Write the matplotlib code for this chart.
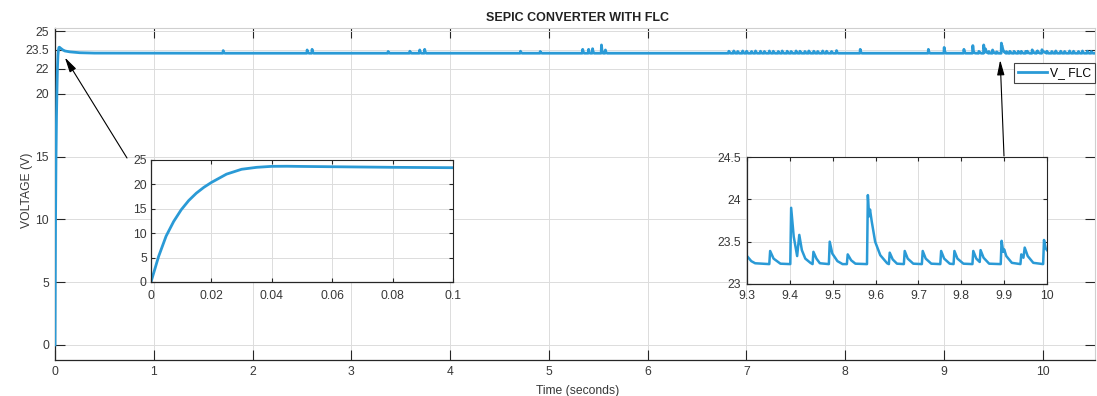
import matplotlib
matplotlib.use("Agg")
import matplotlib.pyplot as plt
import numpy as np

plt.rcParams['font.family'] = ['Liberation Sans', 'DejaVu Sans']

# ---------------- data ----------------
title = "SEPIC CONVERTER WITH FLC"
series_name = "V_ FLC"
x_label = "Time (seconds)"
y_label = "VOLTAGE (V)"

main_xticks = [0, 1, 2, 3, 4, 5, 6, 7, 8, 9, 10]
main_yticks = [0, 5, 10, 15, 20, 22, 23.5, 25]
main_ytick_labels = ["0", "5", "10", "15", "20", "22", "23.5", "25"]

inset1_xticks = [0, 0.02, 0.04, 0.06, 0.08, 0.1]
inset1_xtick_labels = ["0", "0.02", "0.04", "0.06", "0.08", "0.1"]
inset1_yticks = [0, 5, 10, 15, 20, 25]
inset2_xticks = [9.3, 9.4, 9.5, 9.6, 9.7, 9.8, 9.9, 10]
inset2_xtick_labels = ["9.3", "9.4", "9.5", "9.6", "9.7", "9.8", "9.9", "10"]
inset2_yticks = [23, 23.5, 24, 24.5]
inset2_ytick_labels = ["23", "23.5", "24", "24.5"]

base_v = 23.24

# start-up transient (0 .. 0.1 s)
startup_t = [0, 0.0025, 0.005, 0.0075, 0.01, 0.0125, 0.015, 0.0175, 0.02, 0.025,
             0.03, 0.035, 0.04, 0.045, 0.05, 0.06, 0.07, 0.08, 0.09, 0.1]
startup_v = [0, 5.2, 9.4, 12.4, 14.8, 16.7, 18.2, 19.4, 20.4, 22.1,
             23.1, 23.5, 23.7, 23.72, 23.68, 23.62, 23.56, 23.5, 23.46, 23.42]

settle_t = [0.15, 0.25, 0.4]
settle_v = [23.35, 23.28, 23.25]

# spikes seen on the main trace outside the 9.3-10 s window
spike_t = [1.70, 2.55, 2.60, 3.37, 3.59, 3.69, 3.74, 4.71, 4.91,
           5.34, 5.40, 5.44, 5.53, 5.57,
           6.82, 6.87, 6.91, 6.96, 7.00, 7.05, 7.09, 7.14, 7.18, 7.23, 7.27, 7.32,
           7.36, 7.41, 7.45, 7.50, 7.54, 7.59, 7.63, 7.68, 7.72, 7.77, 7.81, 7.86,
           7.91, 8.15, 8.84, 9.00, 9.20, 9.29,
           10.04, 10.09, 10.13, 10.18, 10.22, 10.27, 10.31, 10.36, 10.40, 10.45, 10.49]
spike_v = [23.45, 23.5, 23.55, 23.38, 23.4, 23.5, 23.55, 23.4, 23.38,
           23.55, 23.55, 23.6, 23.9, 23.5,
           23.4, 23.42, 23.38, 23.42, 23.4, 23.38, 23.42, 23.4, 23.38, 23.42, 23.4, 23.38,
           23.42, 23.4, 23.38, 23.42, 23.4, 23.38, 23.42, 23.4, 23.38, 23.42, 23.4, 23.38,
           23.45, 23.55, 23.55, 23.7, 23.55, 23.85,
           23.4, 23.38, 23.42, 23.4, 23.38, 23.42, 23.4, 23.38, 23.42, 23.4, 23.38]

# detailed trace in the 9.3 - 10 s window (zoomed inset)
win_t = [9.300, 9.310, 9.319, 9.352, 9.354, 9.362, 9.378,
         9.401, 9.403, 9.409, 9.417, 9.422, 9.428, 9.436, 9.448,
         9.453, 9.455, 9.462, 9.470,
         9.491, 9.493, 9.499, 9.511, 9.523,
         9.533, 9.535, 9.543, 9.553,
         9.580, 9.582, 9.585, 9.587, 9.591, 9.599, 9.611, 9.627,
         9.631, 9.633, 9.640, 9.650,
         9.666, 9.668, 9.675, 9.688,
         9.708, 9.710, 9.717, 9.730,
         9.751, 9.753, 9.760, 9.773,
         9.782, 9.784, 9.791, 9.805,
         9.826, 9.828, 9.835, 9.843, 9.845, 9.852, 9.865,
         9.892, 9.894, 9.898, 9.900, 9.905, 9.918,
         9.938, 9.940, 9.945, 9.948, 9.955, 9.968,
         9.991, 9.993, 9.997, 10.000]
win_v = [23.33, 23.27, 23.245, 23.235, 23.39, 23.30, 23.24,
         23.235, 23.90, 23.56, 23.33, 23.58, 23.40, 23.30, 23.25,
         23.235, 23.38, 23.30, 23.245,
         23.235, 23.50, 23.36, 23.27, 23.235,
         23.235, 23.35, 23.28, 23.24,
         23.235, 24.05, 23.80, 23.88, 23.74, 23.50, 23.34, 23.245,
         23.235, 23.37, 23.29, 23.24,
         23.235, 23.39, 23.30, 23.24,
         23.235, 23.39, 23.30, 23.24,
         23.235, 23.39, 23.30, 23.24,
         23.235, 23.39, 23.30, 23.24,
         23.235, 23.39, 23.30, 23.26, 23.40, 23.31, 23.24,
         23.235, 23.51, 23.38, 23.41, 23.33, 23.25,
         23.235, 23.35, 23.31, 23.43, 23.33, 23.25,
         23.235, 23.52, 23.42, 23.40]

t_end = 10.53

assert len(startup_t) == len(startup_v)
assert len(spike_t) == len(spike_v)
assert len(win_t) == len(win_v)

# ---------------- build the full trace ----------------
pts = list(zip(startup_t, startup_v)) + list(zip(settle_t, settle_v))
for t, v in zip(spike_t, spike_v):
    for tt, vv in [(t, base_v), (t + 0.003, v), (t + 0.008, base_v + 0.35 * (v - base_v)), (t + 0.02, base_v)]:
        if tt < win_t[0] or tt > win_t[-1]:
            pts.append((tt, vv))
pts += list(zip(win_t, win_v))
pts.append((t_end, base_v))
pts.sort(key=lambda p: p[0])
main_t = np.array([p[0] for p in pts])
main_v = np.array([p[1] for p in pts])

# ---------------- styling ----------------
W, H = 1097, 396
line_col = '#2a9ad6'
dark = '#262626'
tick_col = '#383838'
grid_col = '#dcdcdc'
fs = 8.7

fig = plt.figure(figsize=(W / 100, H / 100), dpi=100)
fig.patch.set_facecolor('white')


def style_axes(a, ticklen, xpad, ypad, light_box=False):
    a.grid(True, color=grid_col, linewidth=0.7)
    a.set_axisbelow(True)
    a.tick_params(direction='in', length=ticklen, width=0.8, color=dark,
                  labelsize=fs, labelcolor=tick_col, top=True, right=True)
    a.tick_params(axis='x', pad=xpad)
    a.tick_params(axis='y', pad=ypad)
    for s in ['left', 'bottom']:
        a.spines[s].set_color(dark)
        a.spines[s].set_linewidth(0.9)
    for s in ['top', 'right']:
        a.spines[s].set_color('#cfcfcf' if light_box else dark)
        a.spines[s].set_linewidth(0.8)


# main axes
ax = fig.add_axes([55 / W, 1 - 360 / H, (1095 - 55) / W, (360 - 28) / H])
ax.plot(main_t, main_v, color=line_col, linewidth=2.0, label=series_name, zorder=3)
ax.set_xlim(0, t_end)
ax.set_ylim(-1.2, 25.25)
ax.set_xticks(main_xticks)
ax.set_yticks(main_yticks)
ax.set_yticklabels(main_ytick_labels)
style_axes(ax, 7.5, 4.0, 4.3, light_box=True)

leg = ax.legend(loc='upper right', bbox_to_anchor=(1095 / W, 1 - 63 / H),
                bbox_transform=fig.transFigure, fontsize=fs, frameon=True,
                fancybox=False, handlelength=2.4, handletextpad=0.2,
                borderpad=0.35, borderaxespad=0)
leg.get_frame().set_edgecolor('#444444')
leg.get_frame().set_linewidth(0.8)
leg.get_frame().set_alpha(1)

fig.text(578 / W, 1 - 18 / H, title, ha='center', va='center',
         fontsize=9, fontweight='bold', color='#222222')
fig.text(578 / W, 1 - 391 / H, x_label, ha='center', va='center',
         fontsize=fs, color=tick_col)
fig.text(27 / W, 1 - 190 / H, y_label, ha='center', va='center',
         rotation=90, fontsize=fs, color=tick_col)

# arrows
ax.annotate('', xy=(0.1, 22.9), xycoords='data',
            xytext=(127, H - 158), textcoords='figure pixels',
            arrowprops=dict(arrowstyle='-|>,head_width=0.22,head_length=0.9',
                            color='black', lw=0.8, shrinkA=0, shrinkB=0),
            annotation_clip=False, zorder=5)
ax.annotate('', xy=(9.57, 22.7), xycoords='data',
            xytext=(1004, H - 156), textcoords='figure pixels',
            arrowprops=dict(arrowstyle='-|>,head_width=0.22,head_length=0.9',
                            color='black', lw=0.8, shrinkA=0, shrinkB=0),
            annotation_clip=False, zorder=5)

# inset 1: start-up
ax1 = fig.add_axes([151 / W, 1 - 282 / H, 302 / W, 122 / H])
ax1.set_facecolor('white')
ax1.plot(startup_t, startup_v, color=line_col, linewidth=2.0)
ax1.set_xlim(0, 0.1)
ax1.set_ylim(0, 25)
ax1.set_xticks(inset1_xticks)
ax1.set_xticklabels(inset1_xtick_labels)
ax1.set_yticks(inset1_yticks)
style_axes(ax1, 3.0, 5.5, 3.0)

# inset 2: 9.3 - 10 s detail
ax2 = fig.add_axes([747 / W, 1 - 284 / H, 300 / W, 127 / H])
ax2.set_facecolor('white')
ax2.plot(win_t, win_v, color=line_col, linewidth=1.8)
ax2.set_xlim(9.3, 10)
ax2.set_ylim(23, 24.5)
ax2.set_xticks(inset2_xticks)
ax2.set_xticklabels(inset2_xtick_labels)
ax2.set_yticks(inset2_yticks)
ax2.set_yticklabels(inset2_ytick_labels)
style_axes(ax2, 3.0, 4.5, 4.5)

fig.savefig('out.png', dpi=100, facecolor='white')
